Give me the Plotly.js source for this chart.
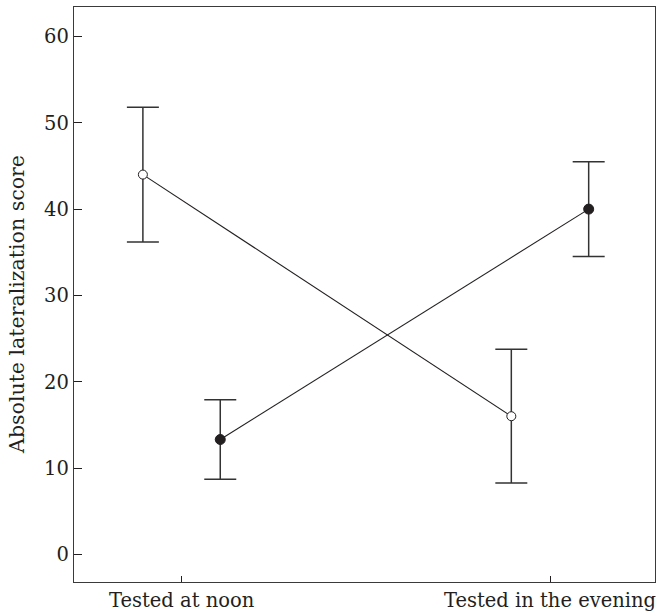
<!DOCTYPE html>
<html>
<head>
<meta charset="utf-8">
<script src="https://cdn.plot.ly/plotly-3.0.1.min.js"></script>
<style>html,body{margin:0;padding:0;background:#fff;}#chart{width:656px;height:612px;}</style>
</head>
<body>
<div id="chart"></div>
<script>
// Data
var conditions = ['Tested at noon', 'Tested in the evening'];
var openMeans = [44.0, 16.0];
var openErr = [7.8, 7.75];
var filledMeans = [13.3, 40.0];
var filledErr = [4.6, 5.5];
var yTicks = [0, 10, 20, 30, 40, 50, 60];
var yTitle = 'Absolute lateralization score';

var dodge = 0.105;
var catIdx = conditions.map(function (c, i) { return i; });
var ink = '#231f20';
var font = 'DejaVu Serif, Liberation Serif, serif';

var openTrace = {
  x: catIdx.map(function (i) { return i - dodge; }),
  y: openMeans,
  type: 'scatter', mode: 'lines+markers', name: 'open',
  line: {color: ink, width: 1.1},
  marker: {symbol: 'circle', size: 9, color: '#ffffff', line: {color: ink, width: 1}},
  error_y: {type: 'data', array: openErr, visible: true, color: '#333333', thickness: 1.5, width: 16},
  hoverinfo: 'y'
};
var filledTrace = {
  x: catIdx.map(function (i) { return i + dodge; }),
  y: filledMeans,
  type: 'scatter', mode: 'lines+markers', name: 'filled',
  line: {color: ink, width: 1.1},
  marker: {symbol: 'circle', size: 10, color: ink, line: {color: ink, width: 1}},
  error_y: {type: 'data', array: filledErr, visible: true, color: '#333333', thickness: 1.5, width: 16},
  hoverinfo: 'y'
};

var layout = {
  width: 656, height: 612,
  margin: {l: 74, r: 1, t: 7, b: 30},
  paper_bgcolor: '#ffffff', plot_bgcolor: '#ffffff',
  showlegend: false,
  font: {family: font, size: 19, color: ink},
  xaxis: {
    range: [-0.292, 1.285],
    tickmode: 'array', tickvals: catIdx, ticktext: conditions,
    ticks: 'inside', ticklen: 6, tickwidth: 1, tickcolor: ink,
    ticklabeloverflow: 'allow',
    showline: true, linecolor: '#3a3a3a', linewidth: 1.3, mirror: true,
    showgrid: false, zeroline: false,
    tickfont: {family: font, size: 19.5, color: ink}
  },
  yaxis: {
    range: [-3.21, 63.42],
    tickmode: 'array', tickvals: yTicks,
    ticks: 'inside', ticklen: 8, tickwidth: 1, tickcolor: ink,
    showline: true, linecolor: '#3a3a3a', linewidth: 1.3, mirror: true,
    showgrid: false, zeroline: false,
    tickfont: {family: font, size: 19.5, color: ink}
  },
  annotations: [{
    text: yTitle, textangle: -90, showarrow: false,
    xref: 'paper', yref: 'paper', x: -0.098, y: 0.482,
    xanchor: 'center', yanchor: 'middle',
    font: {family: font, size: 20.5, color: ink}
  }]
};

Plotly.newPlot('chart', [openTrace, filledTrace], layout, {displayModeBar: false, staticPlot: true});
</script>
</body>
</html>
